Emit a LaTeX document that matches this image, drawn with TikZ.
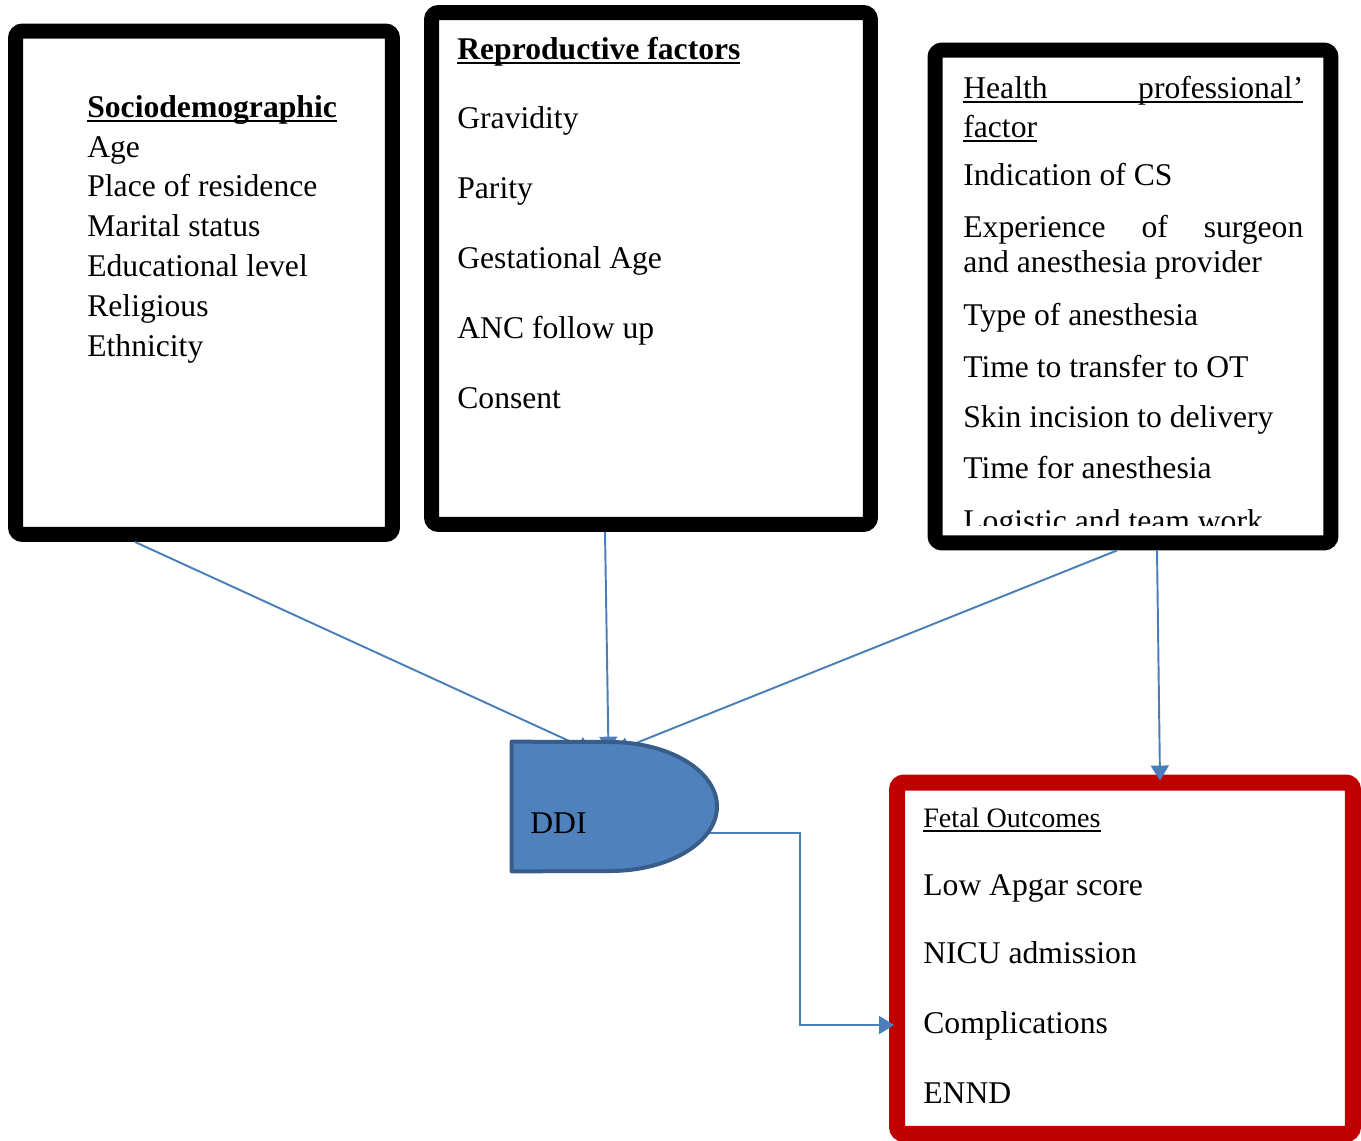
\documentclass[tikz,border=0pt]{standalone}
\usepackage{fontspec}
\setmainfont{Liberation Serif}
\usepackage{tikz}
\usetikzlibrary{arrows.meta,calc}
\usepackage{xcolor}

\definecolor{linkblue}{HTML}{4A7EBB}
\definecolor{ddifill}{HTML}{4F81BD}
\definecolor{ddiedge}{HTML}{385D8A}
\definecolor{outred}{HTML}{C00000}

% underline set a little below the baseline
\newcommand{\headul}[1]{\setbox0=\hbox{#1}\rlap{\rule[-0.1cm]{\wd0}{0.045cm}}\box0}

\tikzset{
  factorbox/.style={draw=black, line width=0.3cm, rounded corners=4pt, inner sep=0pt},
  outcomebox/.style={draw=outred, line width=0.32cm, rounded corners=4pt, inner sep=0pt},
  itemtext/.style={anchor=base west, inner sep=0pt, font=\fontsize{18}{22}\selectfont},
  link/.style={draw=linkblue, line width=1.1pt},
  tolink/.style={link, -{Triangle[width=0.36cm,length=0.3cm]}},
  ddishape/.style={fill=ddifill, draw=ddiedge, line width=0.08cm, line join=round}
}

\begin{document}
\begin{tikzpicture}[x=0.02cm, y=-0.02cm]

\useasboundingbox (0,0) rectangle (1361,1140);

% Factor boxes
\node[factorbox, minimum width=7.54cm, minimum height=10.07cm] (socio) at (204,282.75) {};
\node[factorbox, minimum width=8.78cm, minimum height=10.24cm] (repro) at (651,268.5) {};
\node[factorbox, minimum width=7.92cm, minimum height=9.86cm] (health) at (1133,296.5) {};

% Outcome box
\node[outcomebox, minimum width=9.12cm, minimum height=7.03cm] (fetal) at (1125,958.25) {};

% Sociodemographic
\node[itemtext] (sociohead) at (87,117) {\bfseries\headul{Sociodemographic}};
\foreach \txt [count=\i from 0] in {Age, Place of residence, Marital status, Educational level, Religious, Ethnicity}
  \node[itemtext] (socio\i) at (87,{157+39.8*\i}) {\txt};

% Reproductive factors
\node[itemtext] (reprohead) at (457,59) {\bfseries\headul{Reproductive factors}};
\foreach \txt [count=\i from 0] in {Gravidity, Parity, Gestational Age, ANC follow up, Consent}
  \node[itemtext] (repro\i) at (457,{128+70*\i}) {\txt};

% Health professional factor
\node[itemtext] (healthheadA) at (963,98) {\headul{\makebox[6.8cm][l]{Health\hfill professional’}}};
\node[itemtext] (healthheadB) at (963,137) {\headul{factor}};
\node[itemtext] (healthexpA) at (963,237) {\makebox[6.8cm][l]{Experience\hfill of\hfill surgeon}};
\foreach \y/\txt [count=\i] in {185/Indication of CS, 272/and anesthesia provider, 325/Type of anesthesia,
    377/Time to transfer to OT, 427/Skin incision to delivery, 478/Time for anesthesia}
  \node[itemtext] (health\i) at (963,\y) {\txt};
\begin{scope}
  \clip (943,58) rectangle (1323,525);
  \node[itemtext] (healthlast) at (963,531) {Logistic and team work};
\end{scope}

% Fetal outcomes
\node[itemtext, font=\fontsize{16}{20}\selectfont] (fetalhead) at (923,827) {\headul{Fetal Outcomes}};
\foreach \y/\txt [count=\i] in {895/Low Apgar score, 963/NICU admission, 1033/Complications, 1103/ENND}
  \node[itemtext] (fetal\i) at (923,\y) {\txt};

% DDI
\node[minimum width=4.1cm, minimum height=2.58cm, inner sep=0pt] (ddi) at (614.5,806.5) {};
\coordinate (ddiout) at (708,833);
\coordinate (bend) at (800,1025);

% Connectors
\draw[tolink] ($(socio.south)+(-69,0)$) -- ($(ddi.north)+(-22,10)$);
\draw[tolink] ($(repro.south)+(-46,0)$) -- ($(ddi.north)+(-6,10)$);
\draw[tolink] ($(health.south)+(-16,0)$) -- ($(ddi.north)+(0,10)$);
\draw[tolink] ($(health.south)+(24,0)$) -- ($(fetal.north)+(35,6)$);
\draw[tolink] (ddiout) -| (bend) -- ($(fetal.west |- bend)+(5,0)$);

\draw[ddishape] (ddi.north west) -- (610,742)
  .. controls (669.1,742) and (717,770.9) .. (717,806.5)
  .. controls (717,842.1) and (669.1,871) .. (610,871) -- (ddi.south west) -- cycle;
\node[itemtext] (dditext) at (530,833) {DDI};

\end{tikzpicture}
\end{document}
